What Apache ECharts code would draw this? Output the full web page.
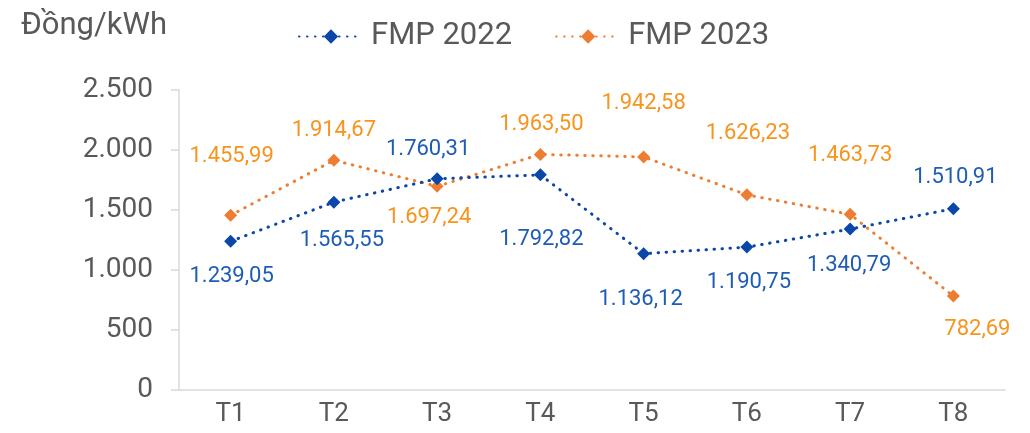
<!DOCTYPE html>
<html><head><meta charset="utf-8">
<script src="https://cdn.jsdelivr.net/npm/echarts@6/dist/echarts.min.js"></script>
<style>html,body{margin:0;padding:0;background:#fff}#c{width:1030px;height:433px}</style>
</head><body><div id="c"></div>
<script>
const categories = ['T1','T2','T3','T4','T5','T6','T7','T8'];
const fmp2022 = [1239.05, 1565.55, 1760.31, 1792.82, 1136.12, 1190.75, 1340.79, 1510.91];
const fmp2023 = [1455.99, 1914.67, 1697.24, 1963.50, 1942.58, 1626.23, 1463.73, 782.69];
const yTicks = [0, 500, 1000, 1500, 2000, 2500];

// label offsets (layout only)
const off2022 = [[1,35],[8,38],[-9,-29],[1,65],[-3,46],[2,35],[-1,36],[2,-31]];
const off2023 = [[1,-59],[0,-30],[-8,31],[1,-30],[0,-53],[1,-61],[0,-59],[24,33]];

function fmt(v){
  const parts = v.toFixed(2).split('.');
  const intp = parts[0].replace(/\B(?=(\d{3})+(?!\d))/g, '.');
  return intp + ',' + parts[1];
}
function build(vals, offs){
  return vals.map((v,i)=>({value:v, label:{offset:offs[i]}}));
}
const chart = echarts.init(document.getElementById('c'));
const font = 'Roboto';
chart.setOption({
  animation:false,
  textStyle:{fontFamily:font},
  title:{text:'Đồng/kWh', left:16, top:6, textStyle:{fontFamily:font, fontSize:31, fontWeight:'normal', color:'#595959'}},
  legend:{
    top:16, left:293, itemGap:43, itemWidth:64, itemHeight:18,
    textStyle:{fontFamily:font, fontSize:31, color:'#595959', padding:[0,0,0,3]},
    data:['FMP 2022','FMP 2023']
  },
  grid:{left:179, right:25, top:90, bottom:43, containLabel:false},
  xAxis:{
    type:'category', data:categories,
    axisLine:{lineStyle:{color:'#d9d9d9', width:1.5}},
    axisTick:{show:false},
    axisLabel:{fontFamily:font, fontSize:26, color:'#595959', margin:11}
  },
  yAxis:{
    type:'value', min:0, max:2500, interval:500,
    axisLine:{show:true, lineStyle:{color:'#d9d9d9', width:1.5}},
    axisTick:{show:true, inside:false, length:8, lineStyle:{color:'#d9d9d9', width:1.5}},
    splitLine:{show:false},
    axisLabel:{fontFamily:font, fontSize:28, color:'#595959', margin:26,
      formatter:v=>fmt(v).split(',')[0]}
  },
  series:[
    {
      name:'FMP 2022', type:'line', data:build(fmp2022, off2022),
      symbol:'diamond', symbolSize:13,
      itemStyle:{color:'#0A47A8'},
      lineStyle:{color:'#0A47A8', width:3, type:[0.5,7.5], cap:'round'},
      label:{show:true, position:'inside', fontFamily:font, fontSize:22, color:'#1F5CB6',
        formatter:p=>fmt(p.value)},
      z:3
    },
    {
      name:'FMP 2023', type:'line', data:build(fmp2023, off2023),
      symbol:'diamond', symbolSize:13,
      itemStyle:{color:'#ED7D31'},
      lineStyle:{color:'#ED7D31', width:3, type:[0.5,7.5], cap:'round'},
      label:{show:true, position:'inside', fontFamily:font, fontSize:22, color:'#F7941D',
        formatter:p=>fmt(p.value)},
      z:2
    }
  ]
});
</script></body></html>
